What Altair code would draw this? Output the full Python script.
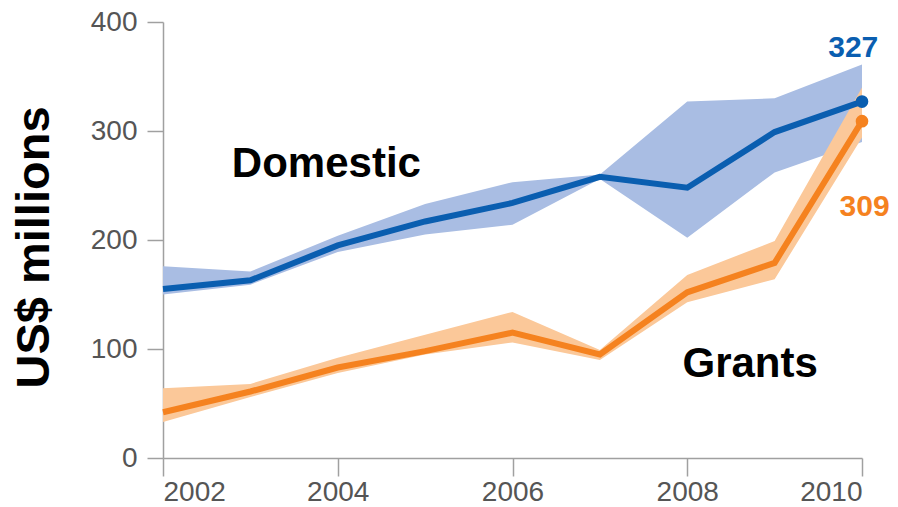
import altair as alt
import pandas as pd

years = [2002, 2003, 2004, 2005, 2006, 2007, 2008, 2009, 2010]
domestic = [155, 163, 195, 217, 234, 258, 248, 299, 327]
domestic_low = [150, 159, 189, 205, 214, 256, 202, 262, 290]
domestic_high = [176, 171, 204, 233, 253, 260, 327, 330, 361]
grants = [42, 61, 83, 98, 115, 95, 152, 179, 309]
grants_low = [33, 56, 78, 95, 106, 90, 143, 164, 294]
grants_high = [64, 68, 92, 113, 134, 99, 168, 199, 340]

rows = []
for i, yr in enumerate(years):
    rows.append({"year": yr, "series": "Domestic", "value": domestic[i],
                 "low": domestic_low[i], "high": domestic_high[i]})
    rows.append({"year": yr, "series": "Grants", "value": grants[i],
                 "low": grants_low[i], "high": grants_high[i]})
df = pd.DataFrame(rows)

line_colors = alt.Scale(domain=["Domestic", "Grants"], range=["#0a5eb0", "#f5821f"])
band_colors = alt.Scale(domain=["Domestic", "Grants"], range=["#a9bde3", "#fbc899"])

xscale = alt.Scale(domain=[2002, 2010], nice=False)
yscale = alt.Scale(domain=[0, 400], nice=False)

xaxis = alt.Axis(values=[2002, 2004, 2006, 2008, 2010], format="d", title=None,
                 grid=False, domainColor="#a0a0a0", tickColor="#a0a0a0",
                 tickSize=18, labelFontSize=28, labelColor="#555555",
                 labelFont="Liberation Sans", labelPadding=2, domainWidth=1.5,
                 tickWidth=1.5)
yaxis = alt.Axis(values=[0, 100, 200, 300, 400], title="US$ millions", grid=False,
                 domainColor="#a0a0a0", tickColor="#a0a0a0", tickSize=16,
                 labelFontSize=28, labelColor="#555555", labelFont="Liberation Sans",
                 labelPadding=10, titleFontSize=47, titleFont="Liberation Sans",
                 titleFontWeight="bold", titleColor="#000000",
                 titleX=-115, titleY=225, titleAngle=270, titleAlign="center",
                 titleBaseline="alphabetic", domainWidth=1.5, tickWidth=1.5)

base = alt.Chart(df)

band = base.mark_area(opacity=1).encode(
    x=alt.X("year:Q", scale=xscale, axis=xaxis),
    y=alt.Y("low:Q", scale=yscale, axis=yaxis),
    y2="high:Q",
    color=alt.Color("series:N", scale=band_colors, legend=None),
)

line = base.mark_line(strokeWidth=6).encode(
    x=alt.X("year:Q", scale=xscale, axis=xaxis),
    y=alt.Y("value:Q", scale=yscale, axis=yaxis),
    color=alt.Color("series:N", scale=line_colors, legend=None),
)

pts = base.transform_filter(alt.datum.year == 2010).mark_point(
    filled=True, size=160, opacity=1).encode(
    x=alt.X("year:Q", scale=xscale, axis=xaxis),
    y=alt.Y("value:Q", scale=yscale, axis=yaxis),
    color=alt.Color("series:N", scale=line_colors, legend=None),
)

label_text = ["Domestic", "Grants"]
label_x = [2003.87, 2008.72]
label_y = [258, 74.5]
labels_df = pd.DataFrame({"text": label_text, "year": label_x, "value": label_y})
labels = alt.Chart(labels_df).mark_text(
    font="Liberation Sans", fontSize=42, fontWeight="bold", color="#000000",
    align="center", baseline="alphabetic").encode(
    x=alt.X("year:Q", scale=xscale, axis=xaxis),
    y=alt.Y("value:Q", scale=yscale, axis=yaxis),
    text="text:N")

end_text = ["327", "309"]
end_x = [2009.90, 2010.03]
end_y = [368, 221.6]
end_series = ["Domestic", "Grants"]
end_df = pd.DataFrame({"text": end_text, "year": end_x, "value": end_y, "series": end_series})
end_labels = alt.Chart(end_df).mark_text(
    font="Liberation Sans", fontSize=30, fontWeight="bold",
    align="center", baseline="alphabetic").encode(
    x=alt.X("year:Q", scale=xscale, axis=xaxis),
    y=alt.Y("value:Q", scale=yscale, axis=yaxis),
    text="text:N",
    color=alt.Color("series:N", scale=line_colors, legend=None))

chart = alt.layer(band, line, pts, labels, end_labels).resolve_scale(
    color="independent"
).properties(
    width=699, height=436,
    autosize=alt.AutoSizeParams(type="none"),
    padding={"left": 163, "top": 22, "right": 36, "bottom": 49},
).configure_view(stroke=None)

chart.save("out.html", embed_options={"renderer": "svg", "actions": False})
